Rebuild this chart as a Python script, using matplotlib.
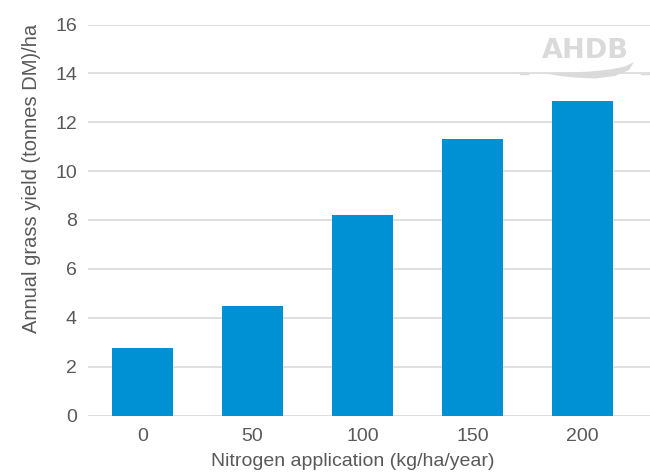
import matplotlib
matplotlib.use("Agg")
import matplotlib.pyplot as plt
from matplotlib.patches import Polygon

# Data
categories = ["0", "50", "100", "150", "200"]
yields = [2.75, 4.47, 8.19, 11.33, 12.88]
y_ticks = [0, 2, 4, 6, 8, 10, 12, 14, 16]

plt.rcParams['font.family'] = ['Liberation Sans', 'DejaVu Sans']
text_col = '#595959'
bar_col = '#0091d5'
grid_col = '#d9d9d9'

W, H = 650, 472
fig = plt.figure(figsize=(W / 100, H / 100), dpi=100)
ax = fig.add_axes([88 / W, 56.5 / H, (W - 88) / W, (415.5 - 24.5) / H])

x = list(range(len(categories)))
ax.bar(x, yields, width=0.555, color=bar_col, zorder=3)

ax.set_xlim((88 - 142.5) / 110, (650 - 142.5) / 110)
ax.set_ylim(0, 16)
ax.set_yticks(y_ticks)
ax.set_xticks(x)
ax.set_xticklabels(categories)

ax.yaxis.grid(True, color=grid_col, linewidth=1.2, zorder=0)
ax.set_axisbelow(True)
for s in ax.spines.values():
    s.set_visible(False)
ax.tick_params(axis='both', length=0, labelsize=14, colors=text_col)
ax.tick_params(axis='y', pad=8)
ax.tick_params(axis='x', pad=9)

ax.set_xlabel("Nitrogen application (kg/ha/year)", fontsize=14, color=text_col)
ax.xaxis.set_label_coords((353 - 88) / 562, (415.5 - 462) / 391)
ax.xaxis.label.set_va('center')
ax.set_ylabel("Annual grass yield (tonnes DM)/ha", fontsize=14.5, color=text_col)
ax.yaxis.set_label_coords((32 - 88) / 562, (415.5 - 178) / 391)
ax.yaxis.label.set_va('center')

# AHDB logo (decorative)
logo_col = '#dadada'
fig.text(585.5 / W, 1 - 51.5 / H, "AHDB", fontsize=19.5, fontweight='bold',
         family='DejaVu Sans', color=logo_col, ha='center', va='center')

def px(pts):
    return [(a / W, 1 - b / H) for a, b in pts]

swoosh = px([(548, 74), (570, 72.5), (590, 71.5), (610, 69.5), (625, 66.5), (634, 62),
             (629, 70), (615, 76), (595, 78.5), (575, 77.5), (560, 76), (548, 74)])
fig.patches.append(Polygon(swoosh, closed=True, transform=fig.transFigure,
                           facecolor=logo_col, edgecolor='none'))
fig.lines.append(plt.Line2D([520 / W, 528 / W], [1 - 73.5 / H] * 2,
                            transform=fig.transFigure, color=logo_col, linewidth=1))
fig.lines.append(plt.Line2D([641 / W, 650 / W], [1 - 73.5 / H] * 2,
                            transform=fig.transFigure, color=logo_col, linewidth=1))

fig.savefig("out.png", dpi=100)
